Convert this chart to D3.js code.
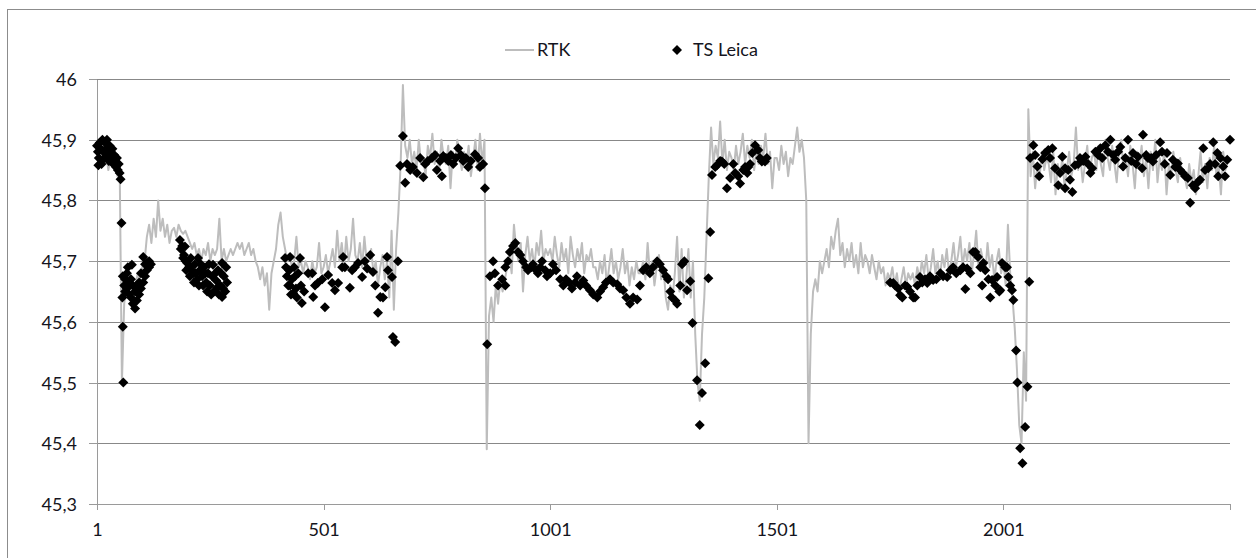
<!DOCTYPE html>
<html lang="en">
<head>
<meta charset="utf-8">
<title>RTK vs TS Leica</title>
<script src="https://cdn.jsdelivr.net/npm/d3@7"></script>
<style>
  html, body { margin: 0; padding: 0; background: #fff; }
  svg text { font-family: Lato, "Liberation Sans", Arial, sans-serif; fill: #141420; }
  .grid line { stroke: #888; stroke-width: 1; shape-rendering: crispEdges; }
  .axis path, .axis line { stroke: #9a9a9a; shape-rendering: crispEdges; }
</style>
</head>
<body>
<svg id="chart" width="1256" height="558"></svg>
<script>
// y axis ticks
var yTicks = [45.3, 45.4, 45.5, 45.6, 45.7, 45.8, 45.9, 46];
// x axis ticks (sample number) and their labels
var xTicks = [1, 501, 1001, 1501, 2001, 2501];
var xTickLabels = ["1", "501", "1001", "1501", "2001", ""];

// RTK height, one reading every 5 samples starting at sample 1
var rtkStart = 1;
var rtkStep = 5;
var rtk = [
  45.88,45.87,45.89,45.86,45.88,45.85,45.87,45.88,45.86,45.84,45.86,45.50,45.63,45.66,45.65,45.67,45.64,45.66,45.68,45.67,
  45.69,45.70,45.74,45.76,45.73,45.77,45.74,45.80,45.75,45.77,45.74,45.76,45.73,45.75,45.755,45.74,45.76,45.75,45.745,45.75,
  45.74,45.73,45.72,45.73,45.71,45.72,45.70,45.72,45.71,45.73,45.70,45.72,45.71,45.72,45.77,45.70,45.72,45.70,45.71,45.72,
  45.71,45.72,45.73,45.72,45.73,45.71,45.72,45.73,45.71,45.72,45.70,45.69,45.67,45.69,45.66,45.68,45.62,45.68,45.70,45.72,
  45.76,45.78,45.74,45.72,45.70,45.71,45.69,45.70,45.74,45.69,45.70,45.68,45.70,45.69,45.67,45.70,45.68,45.69,45.73,45.68,
  45.69,45.71,45.68,45.70,45.72,45.69,45.75,45.70,45.73,45.69,45.74,45.70,45.72,45.77,45.71,45.70,45.73,45.69,45.74,45.70,
  45.70,45.72,45.68,45.70,45.66,45.69,45.71,45.67,45.70,45.64,45.75,45.62,45.72,45.78,45.86,45.99,45.89,45.87,45.90,45.86,
  45.88,45.85,45.90,45.86,45.87,45.84,45.89,45.87,45.91,45.86,45.88,45.85,45.90,45.87,45.86,45.89,45.82,45.88,45.86,45.90,
  45.87,45.85,45.88,45.86,45.89,45.84,45.87,45.90,45.85,45.91,45.86,45.90,45.39,45.61,45.64,45.60,45.66,45.63,45.67,45.65,
  45.67,45.69,45.71,45.68,45.76,45.72,45.70,45.73,45.65,45.71,45.74,45.70,45.72,45.69,45.73,45.71,45.75,45.70,45.72,45.71,
  45.72,45.70,45.74,45.71,45.69,45.73,45.70,45.72,45.68,45.74,45.71,45.69,45.72,45.70,45.73,45.68,45.71,45.70,45.72,45.69,
  45.69,45.67,45.70,45.68,45.71,45.66,45.69,45.72,45.68,45.70,45.67,45.69,45.72,45.68,45.70,45.66,45.69,45.67,45.70,45.68,
  45.68,45.70,45.67,45.73,45.68,45.70,45.66,45.69,45.71,45.67,45.69,45.64,45.62,45.66,45.64,45.68,45.74,45.65,45.72,45.64,
  45.67,45.72,45.64,45.70,45.58,45.50,45.47,45.58,45.64,45.74,45.84,45.92,45.86,45.89,45.87,45.93,45.86,45.90,45.85,45.88,
  45.87,45.85,45.89,45.86,45.88,45.91,45.86,45.89,45.87,45.90,45.85,45.88,45.86,45.89,45.87,45.91,45.86,45.88,45.82,45.87,
  45.87,45.85,45.89,45.86,45.88,45.84,45.87,45.86,45.89,45.92,45.88,45.90,45.87,45.80,45.40,45.58,45.65,45.67,45.65,45.70,
  45.68,45.70,45.72,45.69,45.74,45.72,45.75,45.77,45.71,45.73,45.69,45.72,45.70,45.73,45.69,45.71,45.68,45.73,45.69,45.71,
  45.70,45.68,45.71,45.69,45.67,45.70,45.68,45.69,45.66,45.68,45.67,45.69,45.66,45.68,45.65,45.67,45.69,45.66,45.68,45.67,
  45.68,45.66,45.69,45.67,45.70,45.68,45.71,45.67,45.69,45.72,45.68,45.70,45.67,45.71,45.69,45.72,45.68,45.70,45.73,45.69,
  45.71,45.74,45.69,45.72,45.70,45.73,45.68,45.71,45.75,45.69,45.72,45.70,45.68,45.73,45.69,45.71,45.67,45.70,45.72,45.68,
  45.70,45.66,45.76,45.68,45.64,45.59,45.52,45.43,45.40,45.55,45.47,45.95,45.84,45.88,45.82,45.86,45.84,45.88,45.85,45.87,
  45.86,45.83,45.88,45.81,45.86,45.84,45.87,45.82,45.85,45.88,45.84,45.86,45.92,45.85,45.87,45.83,45.86,45.89,45.84,45.87,
  45.88,45.85,45.89,45.86,45.84,45.90,45.87,45.85,45.89,45.86,45.83,45.88,45.90,45.85,45.87,45.84,45.89,45.86,45.82,45.88,
  45.86,45.89,45.84,45.87,45.82,45.88,45.85,45.90,45.83,45.87,45.85,45.88,45.81,45.86,45.84,45.88,45.85,45.83,45.87,45.84,
  45.84,45.82,45.86,45.83,45.85,45.81,45.84,45.88,45.83,45.86,45.82,45.87,45.85,45.89,45.84,45.86,45.81,45.88,45.85,45.87
];

// TS Leica readings: [sample, height]
var tsLeica = [
  [1,45.89],[3,45.88],[4,45.858],[5,45.87],[7,45.895],[9,45.885],[11,45.86],[13,45.9],[15,45.88],[17,45.87],
  [19,45.895],[21,45.885],[23,45.9],[25,45.875],[27,45.865],[29,45.89],[31,45.88],[33,45.87],[35,45.885],[37,45.86],
  [39,45.875],[41,45.865],[43,45.855],[45,45.87],[47,45.85],[49,45.86],[51,45.845],[53,45.835],
  [55,45.763],[57,45.64],[58,45.592],[59,45.50],
  [58,45.675],[61,45.66],[63,45.67],[63,45.65],[67,45.68],[67,45.655],[69,45.69],[72,45.665],[72,45.645],
  [76,45.67],[76,45.64],[78,45.694],[80,45.66],[80,45.63],[85,45.65],[85,45.622],[89,45.66],[89,45.635],
  [94,45.665],[94,45.645],[98,45.68],[98,45.655],[103,45.707],[103,45.665],[107,45.695],[107,45.675],
  [111,45.697],[111,45.685],[116,45.70],[116,45.69],[120,45.695],
  [184,45.735],[186,45.72],[189,45.725],[191,45.705],[193,45.71],[195,45.724],[197,45.70],[198,45.685],[200,45.697],[204,45.69],
  [206,45.675],[208,45.705],[210,45.685],[213,45.68],[215,45.665],[217,45.695],[219,45.68],[222,45.67],[224,45.705],[226,45.66],
  [228,45.685],[230,45.695],[233,45.675],[235,45.66],[237,45.69],[240,45.68],[242,45.665],[244,45.65],
  [246,45.68],[248,45.695],[250,45.66],[253,45.645],[255,45.675],[257,45.694],[259,45.65],[262,45.68],[264,45.668],[266,45.656],[268,45.685],
  [270,45.645],[273,45.66],[275,45.68],[277,45.641],[277,45.697],[279,45.655],[281,45.675],[284,45.65],[286,45.69],[288,45.665],
  [416,45.705],[418,45.69],[420,45.675],[423,45.66],[425,45.685],[427,45.707],[427,45.66],[429,45.645],
  [431,45.67],[434,45.647],[436,45.69],[438,45.675],[440,45.655],[442,45.64],[445,45.68],[449,45.705],
  [451,45.66],[453,45.631],[458,45.65],
  [467,45.68],[476,45.68],[478,45.641],[482,45.66],[488,45.664],[498,45.67],[504,45.624],[511,45.677],
  [520,45.664],[526,45.652],[533,45.664],[542,45.69],[544,45.707],[548,45.69],[559,45.656],[564,45.685],
  [570,45.69],[577,45.697],[586,45.674],[592,45.70],[597,45.688],[604,45.71],[610,45.682],[615,45.66],
  [621,45.615],[626,45.641],[632,45.64],[637,45.657],[641,45.707],[643,45.685],[652,45.674],[654,45.575],
  [659,45.567],[665,45.70],
  [670,45.857],[676,45.906],[681,45.829],[685,45.86],[692,45.85],[698,45.855],[707,45.845],[714,45.87],
  [721,45.838],[725,45.86],[731,45.865],[740,45.87],[747,45.875],[751,45.85],[758,45.865],[762,45.84],
  [765,45.873],[771,45.87],[776,45.865],[782,45.875],[787,45.86],[793,45.87],[798,45.886],[804,45.875],
  [809,45.865],[815,45.87],[820,45.855],[826,45.865],[835,45.876],[842,45.87],[846,45.855],[853,45.86],
  [857,45.82],[862,45.563],
  [868,45.675],[875,45.70],[879,45.68],[886,45.66],[895,45.67],[902,45.66],[902,45.69],[908,45.70],
  [912,45.715],[919,45.725],[924,45.73],[930,45.715],[935,45.71],[941,45.70],[948,45.69],[952,45.685],
  [959,45.69],[963,45.695],[970,45.685],[974,45.68],[979,45.69],[983,45.70],[990,45.685],[994,45.675],
  [1001,45.68],[1007,45.695],[1014,45.685],[1023,45.67],[1030,45.66],[1036,45.67],[1043,45.665],[1049,45.655],
  [1056,45.665],[1060,45.675],[1067,45.66],[1074,45.668],[1080,45.66],[1089,45.652],[1096,45.645],[1105,45.64],
  [1111,45.65],[1118,45.657],[1124,45.665],[1133,45.67],[1140,45.665],[1149,45.662],[1155,45.655],[1162,45.652],
  [1169,45.64],[1177,45.63],[1184,45.64],[1193,45.637],[1199,45.66],[1206,45.685],[1213,45.69],[1221,45.68],
  [1228,45.69],[1237,45.70],[1243,45.695],[1250,45.685],[1257,45.675],[1261,45.67],[1266,45.65],[1270,45.64],
  [1277,45.635],[1281,45.63],[1288,45.66],[1292,45.695],[1297,45.70],[1303,45.652],[1310,45.667],
  [1315,45.598],[1325,45.504],[1331,45.43],[1336,45.483],[1343,45.532],[1350,45.672],[1354,45.748],[1358,45.842],
  [1365,45.855],[1369,45.858],[1376,45.865],[1380,45.864],[1385,45.86],[1391,45.82],[1398,45.837],[1405,45.86],
  [1409,45.845],[1416,45.84],[1420,45.828],[1427,45.85],[1431,45.855],[1436,45.845],[1438,45.855],[1442,45.86],
  [1447,45.878],[1453,45.891],[1460,45.883],[1464,45.87],[1468,45.864],[1475,45.864],[1479,45.87],
  [1751,45.665],[1758,45.664],[1762,45.66],[1769,45.655],[1773,45.644],[1778,45.64],[1784,45.66],[1789,45.658],
  [1795,45.65],[1802,45.64],[1806,45.64],[1811,45.66],[1817,45.674],[1822,45.665],[1828,45.67],[1833,45.664],
  [1839,45.675],[1846,45.669],[1853,45.67],[1862,45.68],[1868,45.675],[1877,45.674],[1884,45.685],[1890,45.69],
  [1897,45.68],[1906,45.685],[1912,45.69],[1917,45.654],[1921,45.688],[1928,45.68],[1934,45.715],[1939,45.715],
  [1945,45.707],[1950,45.69],[1954,45.66],[1957,45.697],[1961,45.685],[1968,45.67],[1972,45.64],[1976,45.669],
  [1983,45.66],[1987,45.674],[1992,45.65],[1994,45.652],[1998,45.697],[2005,45.69],[2009,45.69],[2012,45.674],
  [2016,45.66],[2020,45.652],[2023,45.636],
  [2029,45.553],[2032,45.50],[2038,45.392],[2043,45.367],[2049,45.427],[2054,45.493],[2058,45.666],
  [2060,45.87],[2067,45.891],[2071,45.875],[2076,45.856],[2080,45.84],[2087,45.868],[2093,45.878],[2100,45.883],
  [2104,45.87],[2109,45.886],[2115,45.853],[2122,45.825],[2126,45.845],[2131,45.872],[2137,45.853],[2137,45.82],
  [2144,45.85],[2148,45.834],[2153,45.814],[2159,45.858],[2166,45.86],[2170,45.87],[2177,45.865],[2182,45.872],
  [2188,45.86],[2193,45.845],[2197,45.853],[2204,45.88],[2210,45.875],[2215,45.886],[2219,45.87],[2226,45.891],
  [2232,45.88],[2237,45.9],[2243,45.875],[2248,45.867],[2254,45.88],[2259,45.888],[2265,45.856],[2270,45.87],
  [2276,45.9],[2283,45.865],[2287,45.878],[2294,45.86],[2298,45.872],[2307,45.853],[2309,45.908],[2316,45.875],
  [2320,45.87],[2327,45.87],[2331,45.864],[2338,45.875],[2347,45.896],[2351,45.88],[2357,45.86],[2362,45.878],
  [2369,45.842],[2375,45.867],[2380,45.855],[2386,45.861],[2391,45.85],[2397,45.845],[2402,45.84],[2408,45.837],
  [2413,45.796],[2419,45.825],[2424,45.82],[2430,45.83],[2435,45.834],[2442,45.886],[2446,45.85],[2453,45.853],
  [2457,45.86],[2464,45.896],[2468,45.86],[2473,45.878],[2475,45.84],[2480,45.87],[2486,45.856],[2490,45.84],
  [2495,45.867],[2501,45.9]
];

var svg = d3.select("#chart");
var plot = {left: 97, right: 1230, top: 79, bottom: 504};

var x = d3.scaleLinear().domain([1, 2501]).range([plot.left, plot.right]);
var y = d3.scaleLinear().domain([45.3, 46]).range([plot.bottom, plot.top]);
var fmt = function(d) { return d3.format(".1f")(d).replace(".", ",").replace(",0", ""); };

// outer chart frame
svg.append("rect")
  .attr("x", 7.5).attr("y", 9.5)
  .attr("width", 1300).attr("height", 600)
  .attr("fill", "none").attr("stroke", "#8c8c8c");

// horizontal gridlines
svg.append("g").attr("class", "grid")
  .selectAll("line")
  .data(yTicks.slice(1))
  .enter().append("line")
  .attr("x1", plot.left).attr("x2", plot.right)
  .attr("y1", function(d) { return Math.round(y(d)) + 0.5; })
  .attr("y2", function(d) { return Math.round(y(d)) + 0.5; });

// y axis
var yAxis = svg.append("g").attr("class", "axis")
  .attr("transform", "translate(" + plot.left + ",0)")
  .call(d3.axisLeft(y).tickValues(yTicks).tickSize(8).tickSizeOuter(0).tickPadding(12).tickFormat(fmt));
yAxis.selectAll("text").attr("font-size", "18px").attr("dy", "0.36em");

// x axis
var xAxis = svg.append("g").attr("class", "axis")
  .attr("transform", "translate(0," + plot.bottom + ")")
  .call(d3.axisBottom(x).tickValues(xTicks).tickSize(6).tickSizeOuter(0).tickPadding(13)
    .tickFormat(function(d, i) { return xTickLabels[i]; }));
xAxis.selectAll("text").attr("font-size", "18px");

// RTK line
var line = d3.line()
  .x(function(d, i) { return x(rtkStart + i * rtkStep); })
  .y(function(d) { return y(d); });
svg.append("path")
  .datum(rtk)
  .attr("d", line)
  .attr("fill", "none")
  .attr("stroke", "#bdbdbd")
  .attr("stroke-width", 2)
  .attr("stroke-linejoin", "round");

// TS Leica diamonds
var diamond = d3.symbol().type(d3.symbolSquare).size(50);
svg.append("g").selectAll("path")
  .data(tsLeica)
  .enter().append("path")
  .attr("d", diamond)
  .attr("transform", function(d) { return "translate(" + x(d[0]) + "," + y(d[1]) + ") rotate(45)"; })
  .attr("fill", "#000");

// legend
var legend = svg.append("g");
legend.append("line")
  .attr("x1", 505).attr("x2", 534).attr("y1", 50).attr("y2", 50)
  .attr("stroke", "#bdbdbd").attr("stroke-width", 2);
legend.append("text").attr("x", 537).attr("y", 56).attr("font-size", "18px").text("RTK");
legend.append("path")
  .attr("d", diamond)
  .attr("transform", "translate(677,50) rotate(45)")
  .attr("fill", "#000");
legend.append("text").attr("x", 693).attr("y", 56).attr("font-size", "18px").text("TS Leica");
</script>
</body>
</html>
